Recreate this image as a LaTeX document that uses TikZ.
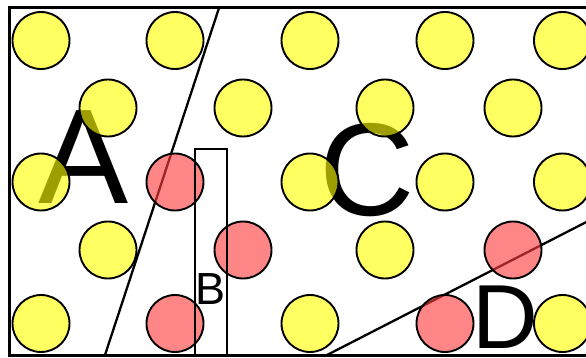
\documentclass[tikz,border=0pt]{standalone}
\usepackage{fontspec}
\setmainfont{Liberation Sans}
\definecolor{diskyellow}{HTML}{FFFF00}
\definecolor{diskred}{HTML}{FF3C3C}
\tikzset{
  disk/.style={circle,draw=black,line width=1.9pt,minimum size=57pt,inner sep=0pt,
               fill opacity=0.62},
  ydisk/.style={disk,fill=diskyellow},
  rdisk/.style={disk,fill=diskred},
  zonelbl/.style={font=\fontsize{#1}{#1}\selectfont,inner sep=0pt},
  cut/.style={line width=2.3pt},
  strip/.style={draw,line width=2.3pt,minimum width=32pt,minimum height=206pt,inner sep=0pt},
  border/.style={line width=3pt},
}

\begin{document}
\begin{tikzpicture}[x=1pt,y=-1pt]
  \useasboundingbox (0,0) rectangle (586,358);
  \clip (0,0) rectangle (586,358);

  \coordinate (abtop) at (219,8);
  \coordinate (abbot) at (105,355);
  \coordinate (cdbot) at (327,355);
  \coordinate (cdend) at (600,215);
  \draw[cut] (abtop) -- (abbot);
  \draw[cut] (cdbot) -- (cdend);

  \node[zonelbl=135] (lblA) at (84,157) {A};
  \node[zonelbl=132] (lblC) at (367,170) {C};

  \foreach \x/\y [count=\i] in {41/40.5,175/40.5,310/40.5,445/40.5,562.5/40.5,
      108/108,243/108,385/108,513/108,
      41/182,310/182,445/182,562.5/182,
      108/250,385/250,
      41/323.5,310/323.5,562.5/323.5}
    \node[ydisk] (y\i) at (\x,\y) {};
  \foreach \x/\y [count=\i] in {175/182,243/250,513/250,175/323.5,445/323.5}
    \node[rdisk] (r\i) at (\x,\y) {};

  \node[strip] (zoneB) at (211,252) {};
  \node[zonelbl=45] (lblB) at (211,289) {B};
  \node[zonelbl=91] (lblD) at (505,317) {D};

  \draw[border] (9,8) rectangle (600,355);
\end{tikzpicture}
\end{document}
